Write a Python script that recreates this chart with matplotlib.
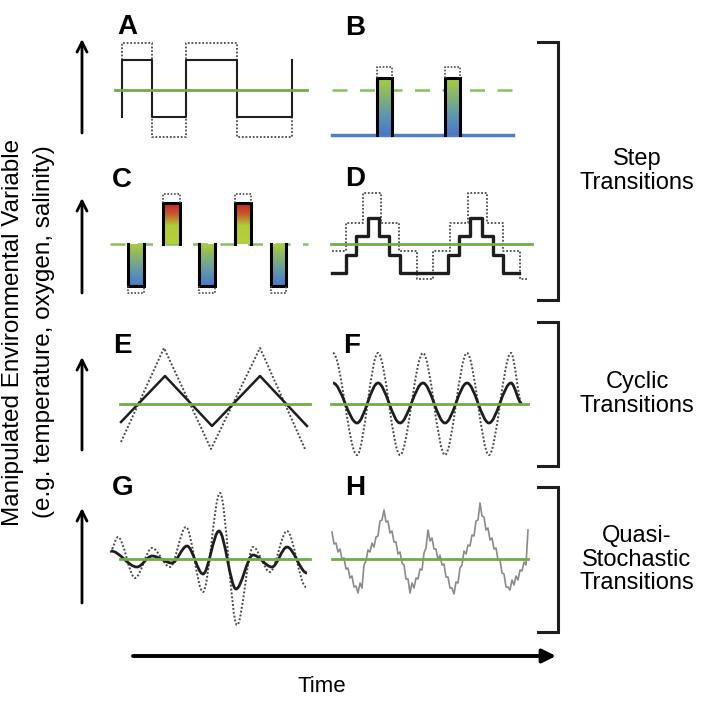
import matplotlib
matplotlib.use("Agg")
import matplotlib.pyplot as plt
import numpy as np
from matplotlib.colors import LinearSegmentedColormap
from matplotlib.patches import PathPatch
from matplotlib.path import Path

plt.rcParams["font.family"] = ["Liberation Sans", "DejaVu Sans"]

# Every panel: time = offset inside its column, level = height over the mean line.

# A: square wave around the mean
A_EDGES = [22, 52, 86, 137, 192]
A_SOLID = [30, -27, 30, -27]
A_DOTTED = [47, -47, 47, -47]
A_MEAN_SPAN = [15, 207]

# B: pulses up from a low baseline
B_LOW = -45
B_LOW_SPAN = [12, 193]
B_MEAN_SPAN = [12, 198]
B_PULSES = [(57, 72), (125, 140)]
B_TOP = 12
B_TOP_DOTTED = 23

# C: alternating pulses above and below the mean
C_MEAN_SPAN = [10, 208]
C_DOWN = [(28, 44), (99, 115), (171, 186)]
C_UP = [(63, 80), (135, 151)]
C_UP_TOP = 41
C_DOWN_BOTTOM = -42
C_UP_DOTTED = 50
C_DOWN_DOTTED = -49

# D: staircase
D_EDGES = [12, 26, 36, 48, 59, 69, 80, 128, 139, 150, 162, 173, 183, 199]
D_SOLID = [-29, -11, 8, 26, 8, -11, -29, -11, 8, 26, 8, -11, -29]
D_DOT_EDGES = [12, 26, 43, 61, 79, 97, 113, 130, 148, 167, 183, 200, 207]
D_DOTTED = [-7, 21, 51, 21, -7, -35, -7, 21, 51, 21, -7, -35]
D_MEAN_SPAN = [11, 212]

# E: triangle wave
E_SOLID_T = [21, 65, 112, 160, 207]
E_SOLID = [-18, 28, -22, 28, -22]
E_DOTTED_T = [21, 64, 111, 160, 205]
E_DOTTED = [-38, 56, -45, 56, -45]
E_MEAN_SPAN = [20, 210]

# F: sine wave (extrema)
F_T = [13, 37, 58, 80, 103, 125, 147, 169, 191, 202]
F_SOLID = [21, -19, 21, -19, 21, -19, 21, -19, 21, 0]
F_DOTTED = [51, -51, 51, -51, 51, -51, 51, -51, 51, 0]
F_MEAN_SPAN = [11, 208]

# G: irregular oscillation (extrema)
G_SOLID_T = [11, 37, 52, 72, 87, 103, 119, 136, 153, 172, 187, 207]
G_SOLID = [8, -8, 3, -4, 13, -15, 28, -30, 4, -8, 12, -14]
G_DOTTED_T = [10, 18, 35, 52, 70, 86, 103, 120, 137, 153, 170, 187, 206]
G_DOTTED = [7, 22, -19, 11, -8, 32, -33, 66, -66, 12, -13, 28, -28]
G_MEAN_SPAN = [20, 210]

# H: noisy signal
H_START, H_STEP = 12, 2
H_VALUES = [27, 15, 16, 7, 10, 0, 1, -10, -9, -19, -17, -28, -27, -34, -24, -29,
            -6, -2, 9, 7, 16, 12, 22, 23, 38, 39, 49, 37, 38, 26, 28, 17, 17, 5,
            7, -4, -6, -20, -20, -34, -24, -29, -19, -20, -10, -11, 6, 11, 29, 18,
            21, 10, 10, -1, 4, -6, -5, -18, -18, -29, -29, -35, -23, -24, -9, -6,
            8, 5, 14, 13, 24, 23, 38, 39, 56, 43, 42, 29, 31, 19, 21, 10, 11, -1,
            -1, -14, -15, -28, -28, -31, -21, -26, -17, -21, -11, -12, -3, -6, 29]
H_MEAN_SPAN = [12, 208]

LETTERS = ["A", "B", "C", "D", "E", "F", "G", "H"]
GROUPS = ["Step\nTransitions", "Cyclic\nTransitions", "Quasi-\nStochastic\nTransitions"]
Y_LABEL = "Manipulated Environmental Variable"
Y_SUBLABEL = "(e.g. temperature, oxygen, salinity)"
X_LABEL = "Time"

GREEN = "#70ad47"
BLUE = "#4f7fc6"
DARK = "#1e1e1e"
DOT = "#4a4a4a"
DOTS = (0, (1, 1))

green_blue = LinearSegmentedColormap.from_list(
    "gb", [(0, "#4a78c8"), (0.3, "#5b93b4"), (1, "#a9cd3e")])
green_red = LinearSegmentedColormap.from_list(
    "gr", [(0, "#b5d13a"), (0.45, "#b0cc38"), (0.75, "#c8552c"), (1, "#c3282c")])

FIG_PX = 702
LEFT_COL, RIGHT_COL = 100, 320
ROW_BASE = [90, 244, 404, 559]
COL_W, HALF = 220, 80


def panel_axes(fig, left, base):
    ax = fig.add_axes([left / FIG_PX, 1 - (base + HALF) / FIG_PX,
                       COL_W / FIG_PX, 2 * HALF / FIG_PX])
    return ax


def finish(ax):
    ax.set_xlim(0, COL_W)
    ax.set_ylim(-HALF, HALF)
    ax.axis("off")


def step_xy(edges, levels, start=None, end=None):
    xs = [edges[0]]
    ys = [levels[0] if start is None else start]
    for i, lv in enumerate(levels):
        xs += [edges[i], edges[i + 1]]
        ys += [lv, lv]
    if end is not None:
        xs.append(edges[-1])
        ys.append(end)
    return xs, ys


def smooth(ax, ts, vals, **kw):
    verts = [(ts[0], vals[0])]
    codes = [Path.MOVETO]
    for i in range(1, len(ts)):
        dt = ts[i] - ts[i - 1]
        verts += [(ts[i - 1] + dt / 3, vals[i - 1]), (ts[i] - dt / 3, vals[i]), (ts[i], vals[i])]
        codes += [Path.CURVE4] * 3
    ax.add_patch(PathPatch(Path(verts, codes), fill=False, **kw))


def mean_line(ax, span, dashed=False):
    if dashed:
        ax.plot(span, [0, 0], color="#86c060", lw=1.8, dashes=(6, 5), zorder=1)
    else:
        ax.plot(span, [0, 0], color=GREEN, lw=2, zorder=5)


def bar(ax, x0, x1, y0, y1, cmap, closed_end):
    grad = np.linspace(0, 1, 64).reshape(-1, 1)
    ax.imshow(grad, extent=(x0, x1, y0, y1), origin="lower", aspect="auto",
              cmap=cmap, zorder=2)
    open_end = y0 if closed_end == y1 else y1
    ax.plot([x0, x0, x1, x1], [open_end, closed_end, closed_end, open_end],
            color="black", lw=2.2, zorder=3, solid_joinstyle="miter")


def dotted_cap(ax, x0, x1, y_from, y_to):
    ax.plot([x0, x0, x1, x1], [y_from, y_to, y_to, y_from], color=DOT, lw=1.2,
            linestyle=DOTS, zorder=3)


fig = plt.figure(figsize=(7.02, 7.02), dpi=100)

# A
ax = panel_axes(fig, LEFT_COL, ROW_BASE[0])
x, y = step_xy(A_EDGES, A_DOTTED, start=A_SOLID[0], end=A_SOLID[-1])
ax.plot(x, y, color=DOT, lw=1.3, linestyle=DOTS)
x, y = step_xy(A_EDGES, A_SOLID, start=A_SOLID[1], end=A_SOLID[0])
ax.plot(x, y, color=DARK, lw=1.5)
mean_line(ax, A_MEAN_SPAN)
finish(ax)

# B
ax = panel_axes(fig, RIGHT_COL, ROW_BASE[0])
mean_line(ax, B_MEAN_SPAN, dashed=True)
ax.plot(B_LOW_SPAN, [B_LOW, B_LOW], color=BLUE, lw=2.5, zorder=2)
for x0, x1 in B_PULSES:
    bar(ax, x0, x1, B_LOW, B_TOP, green_blue, B_TOP)
    dotted_cap(ax, x0, x1, B_TOP, B_TOP_DOTTED)
finish(ax)

# C
ax = panel_axes(fig, LEFT_COL, ROW_BASE[1])
mean_line(ax, C_MEAN_SPAN, dashed=True)
for x0, x1 in C_DOWN:
    bar(ax, x0, x1, C_DOWN_BOTTOM, 0, green_blue, C_DOWN_BOTTOM)
    dotted_cap(ax, x0, x1, C_DOWN_BOTTOM, C_DOWN_DOTTED)
for x0, x1 in C_UP:
    bar(ax, x0, x1, 0, C_UP_TOP, green_red, C_UP_TOP)
    dotted_cap(ax, x0, x1, C_UP_TOP, C_UP_DOTTED)
finish(ax)

# D
ax = panel_axes(fig, RIGHT_COL, ROW_BASE[1])
x, y = step_xy(D_DOT_EDGES, D_DOTTED)
ax.plot(x, y, color=DOT, lw=1.3, linestyle=DOTS)
x, y = step_xy(D_EDGES, D_SOLID)
ax.plot(x, y, color=DARK, lw=2.4)
mean_line(ax, D_MEAN_SPAN)
finish(ax)

# E
ax = panel_axes(fig, LEFT_COL, ROW_BASE[2])
ax.plot(E_DOTTED_T, E_DOTTED, color=DOT, lw=1.4, linestyle=DOTS)
ax.plot(E_SOLID_T, E_SOLID, color=DARK, lw=1.8)
mean_line(ax, E_MEAN_SPAN)
finish(ax)

# F
ax = panel_axes(fig, RIGHT_COL, ROW_BASE[2])
smooth(ax, F_T, F_DOTTED, ec=DOT, lw=1.4, linestyle=DOTS)
smooth(ax, F_T, F_SOLID, ec=DARK, lw=2)
mean_line(ax, F_MEAN_SPAN)
finish(ax)

# G
ax = panel_axes(fig, LEFT_COL, ROW_BASE[3])
smooth(ax, G_DOTTED_T, G_DOTTED, ec=DOT, lw=1.4, linestyle=DOTS)
smooth(ax, G_SOLID_T, G_SOLID, ec=DARK, lw=2)
mean_line(ax, G_MEAN_SPAN)
finish(ax)

# H
ax = panel_axes(fig, RIGHT_COL, ROW_BASE[3])
h_time = H_START + H_STEP * np.arange(len(H_VALUES))
ax.plot(h_time, H_VALUES, color="#8a8a8a", lw=1.2)
mean_line(ax, H_MEAN_SPAN)
finish(ax)

# overlay in pixel coordinates for letters, arrows, brackets and labels
ov = fig.add_axes([0, 0, 1, 1])
ov.set_xlim(0, FIG_PX)
ov.set_ylim(FIG_PX, 0)
ov.axis("off")

letter_pos = [(117, 34), (345, 35), (112, 187), (345, 186),
              (113, 353), (343, 353), (112, 495), (345, 495)]
for letter, (lx, ly) in zip(LETTERS, letter_pos):
    ov.text(lx, ly, letter, fontsize=20, fontweight="bold", ha="left", va="baseline")

arrow_kw = dict(arrowstyle="->", lw=2, color="black", mutation_scale=18,
                shrinkA=0, shrinkB=0)
for tip, tail in [(39, 133), (198, 293), (357, 450), (508, 603)]:
    ov.annotate("", xy=(82, tip), xytext=(82, tail), arrowprops=arrow_kw)

ov.annotate("", xy=(556, 656), xytext=(133, 656),
            arrowprops=dict(arrowstyle="-|>", lw=2.8, color="black",
                            mutation_scale=20, shrinkA=0, shrinkB=0))
ov.text(322, 686, X_LABEL, fontsize=16, ha="center", va="center")

ov.text(13, 332, Y_LABEL, fontsize=17.5, rotation=90, ha="center", va="center")
ov.text(44, 332, Y_SUBLABEL, fontsize=17.5, rotation=90, ha="center", va="center")

brackets = [(42, 300), (322, 466), (487, 632)]
for (top, bottom), label in zip(brackets, GROUPS):
    ov.plot([538, 558, 558, 538], [top, top, bottom, bottom], color=DARK, lw=2.2,
            solid_joinstyle="miter")
    ov.text(637, (top + bottom) / 2, label, fontsize=17, ha="center", va="center",
            linespacing=1.1)

fig.savefig("out.png", dpi=100)
